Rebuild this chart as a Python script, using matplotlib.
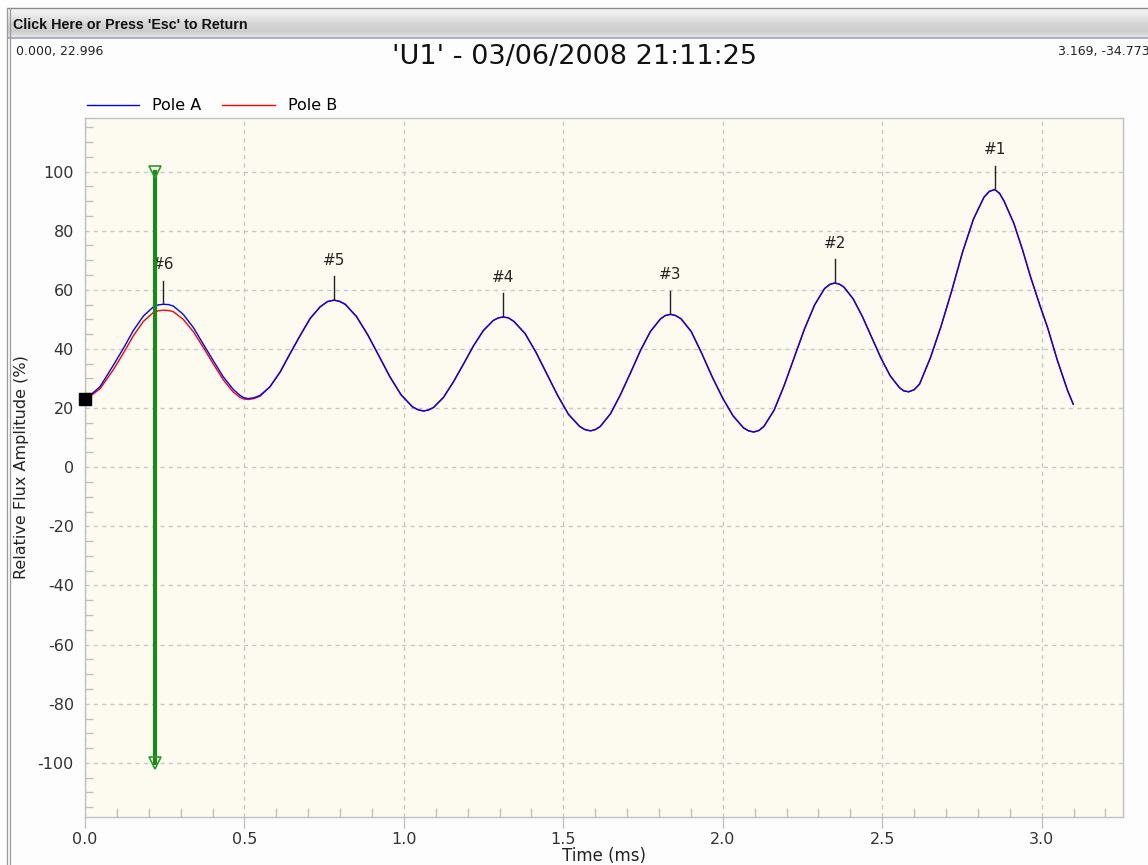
import matplotlib
matplotlib.use("Agg")
import matplotlib.pyplot as plt
import numpy as np
from matplotlib.lines import Line2D
from matplotlib.ticker import MultipleLocator

plt.rcParams["axes.unicode_minus"] = False

# trace (time in ms, relative flux in %)
time_ms = [0.000, 0.016, 0.047, 0.089, 0.120, 0.152, 0.183, 0.214, 0.230, 0.246,
           0.262, 0.277, 0.308, 0.340, 0.371, 0.403, 0.434, 0.465, 0.486, 0.498,
           0.512, 0.530, 0.549, 0.580, 0.612, 0.643, 0.675, 0.706, 0.737, 0.760,
           0.781, 0.798, 0.816, 0.851, 0.886, 0.921, 0.956, 0.991, 1.027, 1.045,
           1.062, 1.078, 1.093, 1.124, 1.155, 1.187, 1.218, 1.249, 1.280, 1.296,
           1.311, 1.328, 1.345, 1.380, 1.414, 1.448, 1.482, 1.516, 1.551, 1.568,
           1.585, 1.600, 1.616, 1.648, 1.679, 1.711, 1.742, 1.773, 1.805, 1.820,
           1.836, 1.852, 1.869, 1.901, 1.934, 1.967, 2.000, 2.032, 2.065, 2.081,
           2.097, 2.113, 2.129, 2.161, 2.192, 2.224, 2.256, 2.288, 2.319, 2.335,
           2.351, 2.366, 2.380, 2.409, 2.438, 2.467, 2.496, 2.525, 2.554, 2.568,
           2.583, 2.600, 2.617, 2.651, 2.684, 2.718, 2.752, 2.786, 2.819, 2.836,
           2.853, 2.868, 2.882, 2.913, 2.940, 2.965, 2.996, 3.018, 3.049, 3.081,
           3.099]

pole_a = [23.0, 24.3, 27.2, 34.5, 40.1, 46.3, 51.1, 54.2, 54.9, 55.1,
          55.0, 54.5, 51.7, 47.2, 41.6, 35.9, 30.5, 26.3, 24.3, 23.5,
          23.2, 23.5, 24.3, 27.2, 32.2, 38.4, 44.6, 50.3, 54.2, 56.0,
          56.5, 56.1, 55.1, 51.0, 44.9, 37.8, 30.6, 24.5, 20.4, 19.4,
          19.0, 19.4, 20.2, 23.6, 28.8, 34.9, 41.0, 46.2, 49.6, 50.5,
          50.8, 50.5, 49.3, 45.2, 38.9, 31.6, 24.3, 17.9, 13.8, 12.7,
          12.3, 12.7, 13.8, 18.1, 24.5, 32.0, 39.5, 45.9, 50.2, 51.3,
          51.7, 51.3, 50.2, 45.9, 38.5, 30.5, 23.3, 17.4, 13.3, 12.3,
          11.9, 12.4, 13.8, 19.3, 27.5, 37.1, 46.7, 54.9, 60.4, 61.8,
          62.3, 61.9, 60.9, 56.9, 50.9, 43.9, 36.9, 30.9, 26.9, 25.8,
          25.5, 26.2, 28.1, 37.0, 47.5, 59.7, 72.8, 83.9, 91.3, 93.3,
          93.9, 92.6, 90.0, 82.4, 73.5, 64.4, 54.2, 47.4, 36.2, 26.0,
          21.3]

# pole B sits a little lower on the first swing, then tracks pole A
pole_b_head = [23.0, 24.0, 26.5, 33.0, 38.5, 44.5, 49.3, 52.3, 52.9, 53.1,
               53.0, 52.6, 50.0, 45.8, 40.5, 34.8, 29.5, 25.4, 23.6, 23.1,
               22.9, 23.2, 24.0]
pole_b = pole_b_head + pole_a[len(pole_b_head):]

peak_labels = ["#6", "#5", "#4", "#3", "#2", "#1"]
cursor_t = 0.22
cursor_span = (100, -100)
title = "'U1' - 03/06/2008 21:11:25"
readout_left = "0.000, 22.996"
readout_right = "3.169, -34.773"

W, H = 1148, 865
def fx(px):
    return px / W
def fy(py):
    return 1 - py / H

fig = plt.figure(figsize=(W / 100, H / 100), dpi=100)
fig.patch.set_facecolor("#fdfdfd")

# window title bar
bar = fig.add_axes([fx(8), fy(38), fx(W - 8), (38 - 8) / H])
grad = np.concatenate([np.linspace(0.97, 0.86, 14), np.linspace(0.84, 0.80, 10),
                       np.linspace(0.82, 0.90, 6)])
bar.imshow(np.repeat(grad[:, None], 2, axis=1), cmap="gray", vmin=0, vmax=1,
           aspect="auto", extent=[0, 1, 0, 1])
bar.set_axis_off()
fig.text(fx(13), fy(25), "Click Here or Press 'Esc' to Return", fontsize=10.3,
         fontweight="bold", family="Liberation Sans", color="#111111",
         va="center", ha="left")
fig.add_artist(Line2D([fx(8), 1], [fy(38), fy(38)], color="#9aa3bd", lw=1.2))
fig.add_artist(Line2D([fx(8), 1], [fy(8), fy(8)], color="#8a8a8a", lw=1))
for xp in (7, 9.5):
    fig.add_artist(Line2D([fx(xp), fx(xp)], [0, fy(8)], color="#9a9a9a", lw=0.9))

fig.text(fx(16), fy(51), readout_left, fontsize=9, color="#222222", va="center")
fig.text(fx(1150), fy(51), readout_right, fontsize=9, color="#222222",
         va="center", ha="right")
fig.text(fx(575), fy(57), title, fontsize=19.5, color="#111111",
         va="center", ha="center")

ax = fig.add_axes([fx(85), fy(817), fx(1123) - fx(85), fy(118) - fy(817)])
ax.set_facecolor("#fdfbef")
ax.set_xlim(0, 3.255)
ax.set_ylim(-118.3, 118.1)

ax.plot(time_ms, pole_b, color="#ff0000", lw=1.0, label="Pole B", zorder=3)
ax.plot(time_ms, pole_a, color="#0000ff", lw=1.0, label="Pole A", zorder=4)

# peak markers, numbered from the largest end backwards
a = np.array(pole_a)
t = np.array(time_ms)
peaks = [i for i in range(1, len(a) - 1) if a[i] > a[i - 1] and a[i] >= a[i + 1]]
for i, lab in zip(peaks, peak_labels):
    ax.plot([t[i], t[i]], [a[i] + 0.5, a[i] + 8], color="#222222", lw=1, zorder=5)
    ax.text(t[i], a[i] + 13.5, lab, ha="center", va="center", fontsize=11,
            color="#222222", zorder=5)

# cursor
ax.plot([cursor_t, cursor_t], cursor_span, color="#178a17", lw=3, zorder=6)
ax.plot([cursor_t, cursor_t], cursor_span, ls="none", marker="v", ms=9,
        mfc="none", mec="#2a9a2a", mew=1.2, zorder=7)
ax.plot([time_ms[0]], [pole_a[0]], marker="s", ms=9, color="black",
        clip_on=False, zorder=8)

ax.xaxis.set_major_locator(MultipleLocator(0.5))
ax.xaxis.set_minor_locator(MultipleLocator(0.1))
ax.yaxis.set_major_locator(MultipleLocator(20))
ax.yaxis.set_minor_locator(MultipleLocator(5))
ax.grid(True, which="major", color="#c8c8c8", ls=(0, (3, 3)), lw=1)
ax.set_axisbelow(True)
ax.tick_params(axis="x", which="major", direction="out", length=8, width=1,
               color="#c0c0c0", labelcolor="#333333", labelsize=11.5, pad=3)
ax.tick_params(axis="x", which="minor", direction="in", length=6.5, width=1,
               color="#c0c0c0")
ax.tick_params(axis="y", which="major", direction="out", length=0,
               labelcolor="#333333", labelsize=11.5, pad=8)
ax.tick_params(axis="y", which="minor", direction="in", length=5.8, width=1,
               color="#c0c0c0")
ax.set_xticks([0, 0.5, 1.0, 1.5, 2.0, 2.5, 3.0])
for s in ax.spines.values():
    s.set_color("#c0c0c0")
    s.set_linewidth(1)

ax.set_xlabel("Time (ms)", fontsize=12, color="#222222", labelpad=0)
ax.set_ylabel("Relative Flux Amplitude (%)", fontsize=11.5, color="#222222")
ax.yaxis.set_label_coords(-0.054, 0.5)

h, l = ax.get_legend_handles_labels()
ax.legend(h[::-1], l[::-1], loc="lower left", bbox_to_anchor=(-0.003, 1.0),
          ncol=2, frameon=False, fontsize=11.5, handlelength=3.3,
          handletextpad=0.8, columnspacing=1.3, borderpad=0.3,
          borderaxespad=0.0)

fig.savefig("out.png", dpi=100, facecolor=fig.get_facecolor())
